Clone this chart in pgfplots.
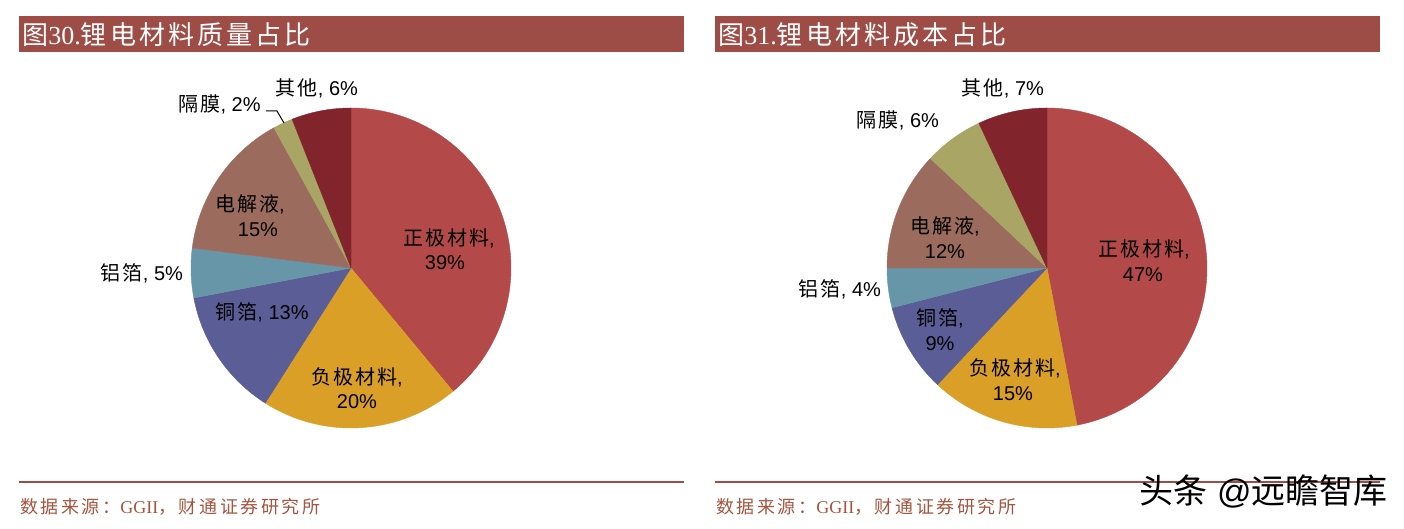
\documentclass[border=0pt]{standalone}
\usepackage{pgfplots}
\pgfplotsset{compat=1.18}
\usepackage{fontspec}
\setmainfont{Liberation Sans}
\newfontfamily\cjk[LetterSpace=10]{Noto Sans CJK SC}
\newfontfamily\cjkh[LetterSpace=12]{Noto Sans CJK SC}
\newfontfamily\cjks[LetterSpace=14]{Noto Sans CJK SC}
\newfontfamily\cjkw{Noto Sans CJK SC}
\newfontfamily\serif{Liberation Serif}
\definecolor{hdr}{HTML}{9E4D46}
\definecolor{c1}{HTML}{B34948}
\definecolor{c2}{HTML}{DA9F27}
\definecolor{c3}{HTML}{5A5D96}
\definecolor{c4}{HTML}{6796A9}
\definecolor{c5}{HTML}{9B6B5E}
\definecolor{c6}{HTML}{A8A565}
\definecolor{c7}{HTML}{82242B}
\definecolor{src}{HTML}{A4553F}
% cx, cy, cumulative start (%), value (%), colour
\newcommand\slice[5]{%
  \pgfmathsetmacro\sa{90-3.6*(#3+#4)}%
  \pgfmathsetmacro\sb{90-3.6*(#3)}%
  \edef\tmp{\noexpand\addplot[fill=#5,draw=#5,line width=0.2pt,domain=\sa:\sb,samples=90,variable=\noexpand\t]
    ({#1+160*cos(\noexpand\t)},{#2+160*sin(\noexpand\t)}) -- (axis cs:#1,#2) -- cycle;}%
  \tmp}
\begin{document}
\begin{tikzpicture}
\path[use as bounding box] (0,0) rectangle (702pt,264.5pt);
\begin{axis}[at={(0,0)},anchor=south west,scale only axis,width=702pt,height=264.5pt,
  xmin=0,xmax=1404,ymin=0,ymax=529,hide axis,clip=false]
% headers
\fill[hdr] (axis cs:19,477) rectangle (axis cs:684,513);
\fill[hdr] (axis cs:715,477) rectangle (axis cs:1380,513);
\node[anchor=west,text=white,font=\fontsize{13pt}{15pt}\selectfont,inner sep=0pt] at (axis cs:22,494)
  {{\cjkh 图}{\serif 30.}{\cjkh 锂电材料质量占比}};
\node[anchor=west,text=white,font=\fontsize{13pt}{15pt}\selectfont,inner sep=0pt] at (axis cs:718,494)
  {{\cjkh 图}{\serif 31.}{\cjkh 锂电材料成本占比}};
% pie 1 : mass share
\slice{351}{261}{0}{39}{c1}
\slice{351}{261}{39}{20}{c2}
\slice{351}{261}{59}{13}{c3}
\slice{351}{261}{72}{5}{c4}
\slice{351}{261}{77}{15}{c5}
\slice{351}{261}{92}{2}{c6}
\slice{351}{261}{94}{6}{c7}
% pie 2 : cost share
\slice{1047}{261}{0}{47}{c1}
\slice{1047}{261}{47}{15}{c2}
\slice{1047}{261}{62}{9}{c3}
\slice{1047}{261}{71}{4}{c4}
\slice{1047}{261}{75}{12}{c5}
\slice{1047}{261}{87}{6}{c6}
\slice{1047}{261}{93}{7}{c7}
% labels pie 1
\begin{scope}[every node/.style={font=\fontsize{10pt}{12pt}\selectfont,inner sep=0pt}]
\node at (axis cs:449,291) {{\cjk 正极材料},};
\node at (axis cs:445,266) {39\%};
\node at (axis cs:357,152) {{\cjk 负极材料},};
\node at (axis cs:357,127) {20\%};
\node at (axis cs:262,217) {{\cjk 铜箔}, 13\%};
\node at (axis cs:142,256) {{\cjk 铝箔}, 5\%};
\node at (axis cs:250,325) {{\cjk 电解液},};
\node at (axis cs:258,299) {15\%};
\node[anchor=east] at (axis cs:261,425) {{\cjk 隔膜}, 2\%};
\node at (axis cs:317,441) {{\cjk 其他}, 6\%};
% labels pie 2
\node at (axis cs:1144,280) {{\cjk 正极材料},};
\node at (axis cs:1143,254) {47\%};
\node at (axis cs:1015,161) {{\cjk 负极材料},};
\node at (axis cs:1013,135) {15\%};
\node at (axis cs:940,211) {{\cjk 铜箔},};
\node at (axis cs:940,185) {9\%};
\node at (axis cs:840,240) {{\cjk 铝箔}, 4\%};
\node at (axis cs:945,303) {{\cjk 电解液},};
\node at (axis cs:945,277) {12\%};
\node at (axis cs:898,409) {{\cjk 隔膜}, 6\%};
\node at (axis cs:1003,441) {{\cjk 其他}, 7\%};
\end{scope}
\draw[black,line width=0.5pt] (axis cs:266,418) -- (axis cs:277,418) -- (axis cs:284,406);
% bottom rules and sources
\draw[hdr,line width=1pt] (axis cs:19,47) -- (axis cs:684,47);
\draw[hdr,line width=1pt] (axis cs:715,47) -- (axis cs:1380,47);
\node[anchor=west,text=src,font=\fontsize{9pt}{11pt}\selectfont,inner sep=0pt] at (axis cs:20,22)
  {{\cjks 数据来源：}{\serif GGII}{\cjks ，财通证券研究所}};
\node[anchor=west,text=src,font=\fontsize{9pt}{11pt}\selectfont,inner sep=0pt] at (axis cs:716,22)
  {{\cjks 数据来源：}{\serif GGII}{\cjks ，财通证券研究所}};
% watermark
\node[anchor=east,text=black,font=\fontsize{17pt}{19pt}\selectfont,inner sep=0pt] at (axis cs:1388,37)
  {{\cjkw 头条} @{\cjkw 远瞻智库}};
\end{axis}
\end{tikzpicture}
\end{document}
